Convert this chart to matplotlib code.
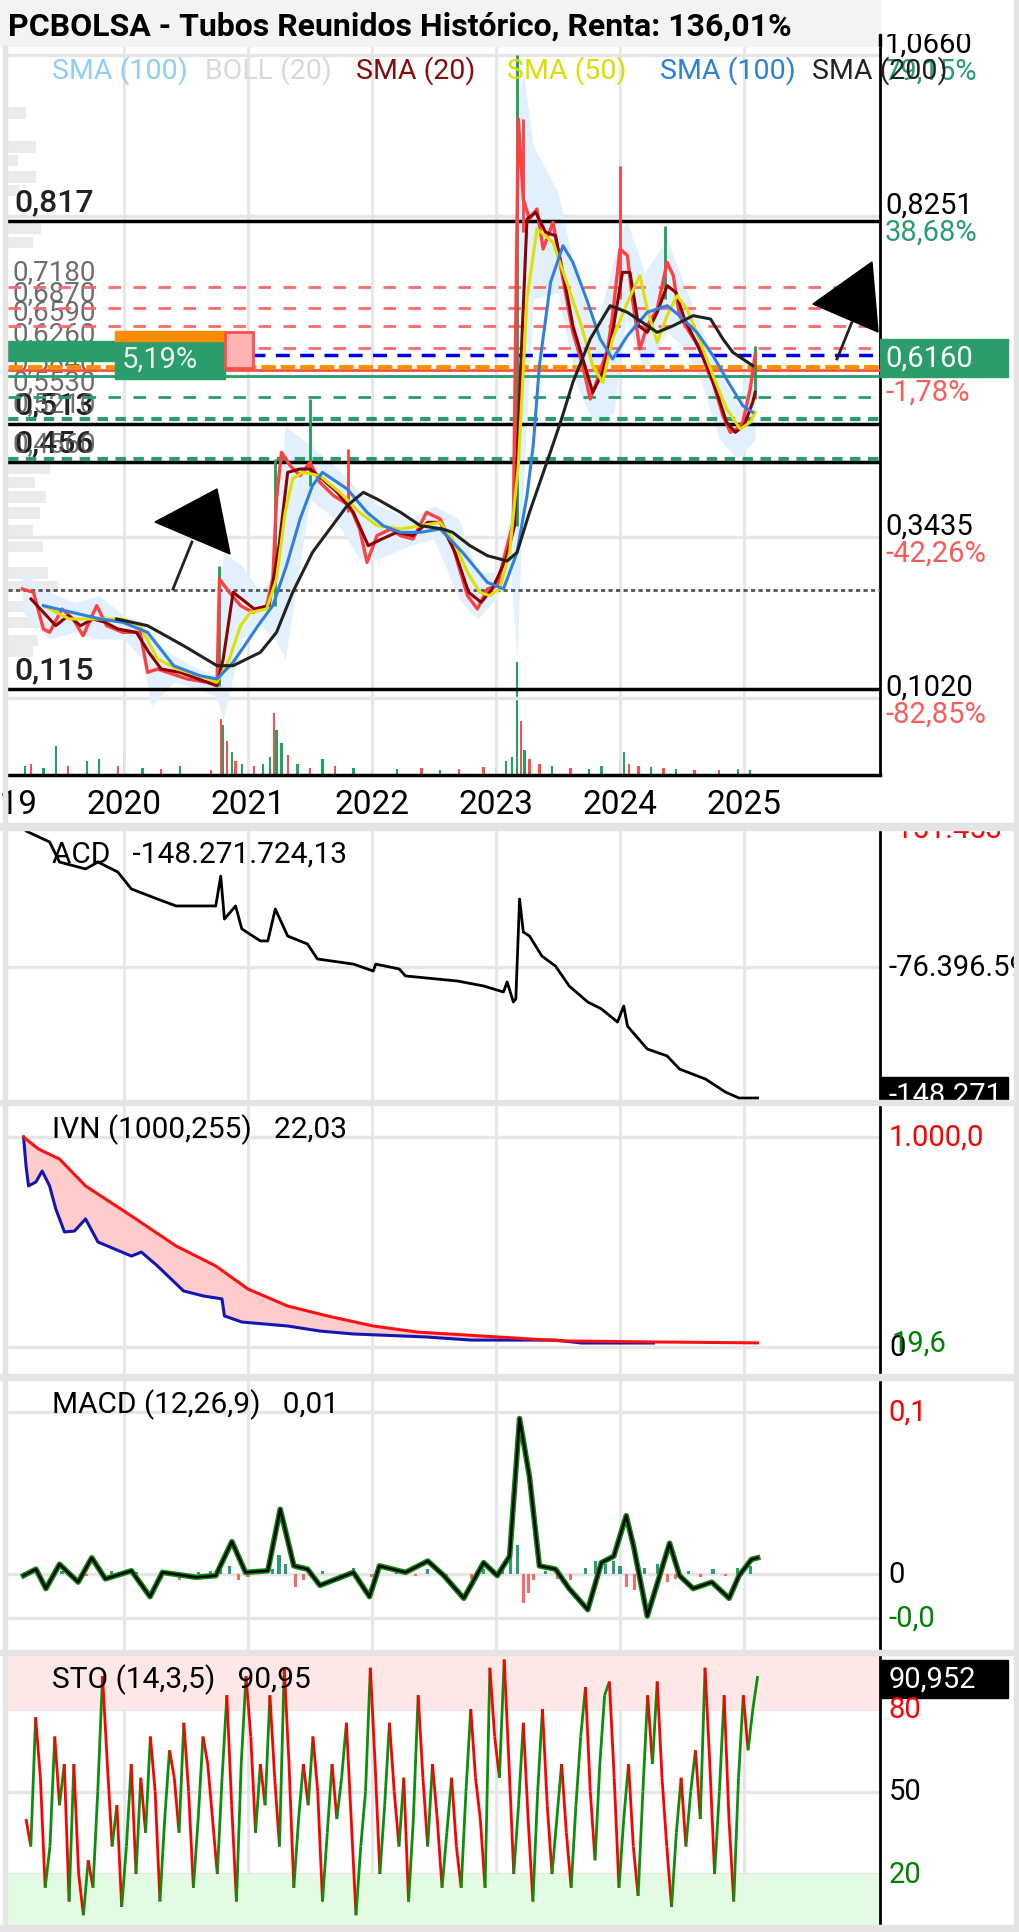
import numpy as np
import matplotlib
matplotlib.use('Agg')
import matplotlib.pyplot as plt
from matplotlib.patches import Rectangle, Polygon
from matplotlib.collections import LineCollection

plt.rcParams['font.family'] = ['Roboto', 'DejaVu Sans']

# ---------------- data ----------------
years = [2019, 2020, 2021, 2022, 2023, 2024, 2025]

price_t = [2019.18, 2019.27, 2019.35, 2019.40, 2019.50, 2019.59, 2019.67, 2019.78, 2019.86, 2019.99,
           2020.13, 2020.19, 2020.27, 2020.35, 2020.51, 2020.67, 2020.75, 2020.77, 2020.85, 2020.94,
           2021.04, 2021.15, 2021.20, 2021.23, 2021.27, 2021.34, 2021.42, 2021.50, 2021.58, 2021.69,
           2021.82, 2021.90, 2021.96, 2022.04, 2022.15, 2022.23, 2022.33, 2022.44, 2022.55, 2022.65,
           2022.77, 2022.85, 2022.93, 2023.01, 2023.09, 2023.14, 2023.18, 2023.22, 2023.27, 2023.33,
           2023.38, 2023.46, 2023.52, 2023.57, 2023.62, 2023.70, 2023.76, 2023.81, 2023.90, 2023.94,
           2024.00, 2024.06, 2024.10, 2024.16, 2024.22, 2024.30, 2024.38, 2024.43, 2024.48, 2024.56,
           2024.65, 2024.70, 2024.75, 2024.83, 2024.89, 2024.94, 2024.99, 2025.05, 2025.09]
price = [0.265, 0.26, 0.205, 0.20, 0.235, 0.22, 0.195, 0.24, 0.21, 0.20,
         0.20, 0.14, 0.145, 0.14, 0.13, 0.125, 0.12, 0.28, 0.26, 0.24,
         0.23, 0.24, 0.28, 0.40, 0.47, 0.45, 0.435, 0.455, 0.425, 0.405,
         0.39, 0.355, 0.305, 0.345, 0.355, 0.345, 0.34, 0.38, 0.37, 0.33,
         0.255, 0.235, 0.265, 0.27, 0.33, 0.365, 0.97, 0.85, 0.82, 0.835,
         0.775, 0.815, 0.75, 0.70, 0.65, 0.60, 0.55, 0.575, 0.625, 0.675,
         0.775, 0.765, 0.70, 0.625, 0.66, 0.685, 0.755, 0.735, 0.675, 0.65,
         0.625, 0.595, 0.575, 0.525, 0.50, 0.505, 0.515, 0.565, 0.616]

wick_t = [2020.77, 2021.22, 2021.50, 2021.81, 2023.17, 2023.22, 2024.00, 2024.36, 2025.09]
wick_lo = [0.12, 0.24, 0.42, 0.38, 0.36, 0.80, 0.70, 0.70, 0.55]
wick_hi = [0.30, 0.46, 0.55, 0.475, 1.066, 0.97, 0.90, 0.81, 0.63]
wick_up = [1, 1, 1, 0, 1, 0, 0, 1, 1]

sma20_t = [2019.25, 2019.35, 2019.45, 2019.55, 2019.65, 2019.75, 2019.85, 2019.95,
           2020.10, 2020.20, 2020.30, 2020.45, 2020.60, 2020.75, 2020.80, 2020.88, 2020.95,
           2021.05, 2021.17, 2021.25, 2021.32, 2021.42, 2021.50, 2021.60, 2021.72, 2021.85, 2021.97,
           2022.08, 2022.20, 2022.33, 2022.45, 2022.55, 2022.67, 2022.78, 2022.88, 2022.97,
           2023.08, 2023.15, 2023.20, 2023.25, 2023.32, 2023.40, 2023.48, 2023.55, 2023.62, 2023.70,
           2023.78, 2023.86, 2023.94,
           2024.02, 2024.08, 2024.15, 2024.22, 2024.30, 2024.38, 2024.45, 2024.52, 2024.60, 2024.70,
           2024.78, 2024.86, 2024.93, 2025.00, 2025.07, 2025.09]
sma20 = [0.25, 0.23, 0.21, 0.225, 0.21, 0.22, 0.215, 0.205,
         0.20, 0.17, 0.145, 0.14, 0.13, 0.12, 0.16, 0.26, 0.25,
         0.235, 0.24, 0.33, 0.44, 0.445, 0.445, 0.43, 0.41, 0.38, 0.33,
         0.34, 0.35, 0.345, 0.365, 0.365, 0.32, 0.26, 0.245, 0.265,
         0.31, 0.36, 0.60, 0.82, 0.83, 0.80, 0.795, 0.73, 0.66, 0.61, 0.56, 0.59, 0.65,
         0.74, 0.74, 0.66, 0.65, 0.68, 0.72, 0.71, 0.67, 0.64, 0.60, 0.56, 0.515, 0.50,
         0.51, 0.545, 0.56]

sma50_t = [2019.35, 2019.56, 2019.81, 2019.99,
           2020.13, 2020.27, 2020.43, 2020.61, 2020.75, 2020.85, 2020.94,
           2021.02, 2021.15, 2021.23, 2021.30, 2021.36, 2021.44, 2021.58, 2021.74, 2021.90,
           2022.04, 2022.23, 2022.39, 2022.55, 2022.65, 2022.77, 2022.87, 2022.95,
           2023.03, 2023.11, 2023.18, 2023.25, 2023.33, 2023.46, 2023.57, 2023.68, 2023.78, 2023.86, 2023.94,
           2024.06, 2024.16, 2024.22, 2024.30, 2024.38, 2024.46, 2024.54, 2024.65, 2024.75, 2024.86, 2024.97,
           2025.05, 2025.09]
sma50 = [0.24, 0.22, 0.22, 0.22,
         0.21, 0.16, 0.145, 0.135, 0.125, 0.16, 0.21,
         0.23, 0.235, 0.28, 0.38, 0.43, 0.44, 0.435, 0.41, 0.38,
         0.36, 0.355, 0.36, 0.365, 0.34, 0.29, 0.26, 0.255,
         0.265, 0.32, 0.45, 0.70, 0.805, 0.785, 0.725, 0.665, 0.60, 0.575, 0.64,
         0.695, 0.735, 0.685, 0.635, 0.675, 0.705, 0.685, 0.635, 0.585, 0.535, 0.505,
         0.515, 0.53]

sma100_t = [2019.35, 2019.81, 2019.99,
            2020.19, 2020.40, 2020.61, 2020.75, 2020.88,
            2021.10, 2021.20, 2021.31, 2021.42, 2021.52, 2021.60, 2021.80, 2021.96,
            2022.09, 2022.23, 2022.39, 2022.55, 2022.73, 2022.93,
            2023.06, 2023.17, 2023.25, 2023.30, 2023.35, 2023.44, 2023.54, 2023.62, 2023.73, 2023.84, 2023.94,
            2024.06, 2024.22, 2024.38, 2024.48, 2024.62, 2024.75, 2024.89, 2024.99,
            2025.07]
sma100 = [0.24, 0.22, 0.215,
          0.20, 0.15, 0.135, 0.13, 0.155,
          0.215, 0.24, 0.30, 0.37, 0.42, 0.44, 0.415, 0.38,
          0.36, 0.35, 0.35, 0.355, 0.32, 0.275,
          0.265, 0.32, 0.405, 0.48, 0.60, 0.725, 0.78, 0.755, 0.70, 0.64, 0.61,
          0.645, 0.68, 0.69, 0.675, 0.65, 0.615, 0.57, 0.54,
          0.53]

sma200_t = [2019.94,
            2020.19, 2020.48, 2020.75, 2020.88,
            2021.10, 2021.23, 2021.36, 2021.52, 2021.64, 2021.80, 2021.93,
            2022.04, 2022.23, 2022.39, 2022.57, 2022.65, 2022.79, 2022.93,
            2023.09, 2023.17, 2023.27, 2023.41, 2023.52, 2023.62, 2023.76, 2023.92,
            2024.06, 2024.22, 2024.30, 2024.43, 2024.59, 2024.73, 2024.83, 2024.91,
            2025.07]
sma200 = [0.22,
          0.21, 0.18, 0.15, 0.15,
          0.17, 0.20, 0.26, 0.32, 0.35, 0.39, 0.41,
          0.40, 0.38, 0.36, 0.355, 0.35, 0.33, 0.315,
          0.307, 0.32, 0.38, 0.455, 0.515, 0.575, 0.64, 0.69,
          0.68, 0.66, 0.65, 0.66, 0.675, 0.67, 0.64, 0.62,
          0.60]

boll_t = [2019.18, 2019.4, 2019.6, 2019.8, 2020.0, 2020.15, 2020.22, 2020.4, 2020.6, 2020.74,
          2020.8, 2020.95, 2021.1, 2021.22, 2021.3, 2021.5, 2021.7, 2021.9, 2022.05, 2022.3,
          2022.5, 2022.7, 2022.85, 2023.0, 2023.12, 2023.17, 2023.22, 2023.3, 2023.5, 2023.65,
          2023.8, 2023.95, 2024.05, 2024.2, 2024.38, 2024.5, 2024.65, 2024.8, 2024.95, 2025.09]
boll_up = [0.29, 0.26, 0.245, 0.255, 0.225, 0.215, 0.19, 0.165, 0.145, 0.135,
           0.32, 0.30, 0.26, 0.29, 0.51, 0.48, 0.45, 0.41, 0.39, 0.37,
           0.39, 0.37, 0.29, 0.29, 0.38, 0.99, 1.04, 0.93, 0.86, 0.73,
           0.65, 0.76, 0.82, 0.74, 0.79, 0.73, 0.66, 0.59, 0.54, 0.63]
boll_lo = [0.23, 0.19, 0.20, 0.19, 0.19, 0.16, 0.09, 0.125, 0.115, 0.105,
           0.07, 0.19, 0.21, 0.19, 0.16, 0.40, 0.37, 0.31, 0.31, 0.33,
           0.34, 0.25, 0.22, 0.25, 0.29, 0.16, 0.42, 0.70, 0.71, 0.57,
           0.51, 0.53, 0.67, 0.59, 0.65, 0.63, 0.58, 0.49, 0.46, 0.49]

vol_t = [2019.20, 2019.25, 2019.35, 2019.45, 2019.55, 2019.70, 2019.80, 2019.95,
         2020.00, 2020.15, 2020.30, 2020.45, 2020.70, 2020.78, 2020.80, 2020.83, 2020.87, 2020.90, 2020.95,
         2021.05, 2021.12, 2021.18, 2021.21, 2021.23, 2021.27, 2021.32, 2021.40, 2021.50, 2021.60, 2021.70, 2021.85,
         2022.00, 2022.20, 2022.40, 2022.55, 2022.70, 2022.90,
         2023.00, 2023.08, 2023.13, 2023.17, 2023.20, 2023.23, 2023.27, 2023.35, 2023.45, 2023.60, 2023.75, 2023.85,
         2024.00, 2024.03, 2024.07, 2024.15, 2024.25, 2024.35, 2024.45, 2024.60, 2024.80, 2024.95,
         2025.05]
vol = [8, 10, 6, 26, 8, 12, 14, 8,
       19, 6, 5, 8, 4, 50, 44, 30, 20, 12, 10,
       8, 10, 16, 55, 40, 28, 18, 10, 6, 14, 8, 6,
       4, 5, 6, 4, 5, 7,
       6, 12, 16, 100, 48, 22, 14, 10, 8, 6, 5, 8,
       14, 20, 10, 8, 7, 6, 5, 4, 4, 5,
       4]
vol_up = [1, 0, 1, 1, 0, 1, 1, 0, 1, 1, 0, 1, 0, 0, 1, 0, 1, 0, 1, 0,
          1, 1, 0, 1, 1, 0, 1, 0, 1, 0, 1, 0, 1, 0, 1, 0, 0, 1, 1, 1,
          1, 0, 1, 0, 0, 1, 0, 1, 1, 1, 1, 0, 0, 1, 0, 1, 0, 0, 1, 1]

vp_price = [0.979, 0.928, 0.908, 0.883, 0.863, 0.806, 0.785, 0.446, 0.425, 0.403,
            0.379, 0.353, 0.329, 0.289, 0.269, 0.239, 0.215, 0.188, 0.172]
vp_size = [18, 28, 10, 28, 12, 33, 25, 42, 27, 38, 32, 25, 35, 40, 50, 55, 40, 30, 25]

lvl_black = [0.817, 0.513, 0.456, 0.115]
lvl_black_txt = ['0,817', '0,513', '0,456', '0,115']
lvl_red = [0.718, 0.687, 0.659, 0.626]
lvl_green = [0.553, 0.520, 0.460]
lvl_gray_txt = [(0.718, '0,7180'), (0.687, '0,6870'), (0.659, '0,6590'), (0.626, '0,6260'),
                (0.584, '0,5840'), (0.553, '0,5530'), (0.520, '0,5210'), (0.460, '0,4560')]
lvl_dotted = 0.2635
lvl_last = 0.616
lvl_orange = 0.5975
lvl_redline = 0.593
lvl_greenline = 0.584

axis_lbl = [(1.066, '1,0660', '79,15%', '#2a9d6e'), (0.8251, '0,8251', '38,68%', '#2a9d6e'),
            (0.3435, '0,3435', '-42,26%', '#ff5a5a'), (0.102, '0,1020', '-82,85%', '#ff5a5a')]
price_grid = [0.102, 0.3435, 0.5843, 0.8251, 1.066]

# drawing-tool objects (year, price)
arrow1_tri = [(2020.25, 0.3655), (2020.75, 0.415), (2020.855, 0.3175)]
arrow1_line = [(2020.395, 0.265), (2020.548, 0.3355)]
arrow2_tri = [(2025.556, 0.6925), (2026.032, 0.7555), (2026.081, 0.6505)]
arrow2_line = [(2025.75, 0.610), (2025.871, 0.6655)]

acd_t = [2019.15, 2019.21, 2019.40, 2019.48, 2019.69, 2019.79, 2019.95,
         2020.06, 2020.27, 2020.42, 2020.74, 2020.78, 2020.81, 2020.90, 2020.95,
         2021.10, 2021.16, 2021.22, 2021.32, 2021.48, 2021.56, 2021.85,
         2022.01, 2022.03, 2022.22, 2022.27, 2022.69, 2022.90,
         2023.06, 2023.09, 2023.14, 2023.16, 2023.19, 2023.22, 2023.27, 2023.37, 2023.48, 2023.59,
         2023.74, 2023.85, 2023.98,
         2024.03, 2024.06, 2024.22, 2024.38, 2024.48, 2024.69, 2024.85, 2024.96,
         2025.11]
acd = [5.0, -1.8, -7.8, -18.8, -22.6, -18.8, -24.3,
       -33.6, -39.1, -42.9, -42.9, -26.5, -50.1, -42.9, -55.5,
       -62.1, -62.1, -44.6, -59.4, -63.8, -72.0, -74.8,
       -78.6, -74.8, -77.5, -81.3, -84.1, -86.8,
       -90.1, -84.6, -95.6, -93.9, -39.1, -57.2, -59.4, -70.4, -75.9, -86.8,
       -95.6, -99.4, -106.6,
       -97.8, -108.8, -121.4, -125.2, -132.4, -137.9, -145.0, -148.3,
       -148.27]

ivn_red_t = [2019.19, 2019.31, 2019.48, 2019.69, 2020.06, 2020.42, 2020.74, 2021.00,
             2021.32, 2021.64, 2022.01, 2022.37, 2023.01, 2023.53, 2024.27, 2025.11]
ivn_red = [1000, 943, 895, 767, 624, 481, 386, 276, 195, 148, 100, 71, 48, 29, 24, 19.6]
ivn_blue_t = [2019.19, 2019.21, 2019.23, 2019.29, 2019.34, 2019.40, 2019.45, 2019.52, 2019.60, 2019.69,
              2019.79, 2020.06, 2020.14, 2020.27, 2020.48, 2020.64, 2020.79, 2020.81, 2020.95, 2021.32,
              2021.58, 2021.85, 2022.43, 2022.80, 2023.48, 2023.69, 2024.27]
ivn_blue = [1000, 862, 767, 786, 838, 767, 657, 548, 552, 610,
            500, 433, 452, 386, 267, 243, 229, 148, 119, 100,
            76, 62, 48, 33, 33, 19, 19]

macd_t = [2019.19, 2019.29, 2019.37, 2019.48, 2019.63, 2019.74, 2019.85,
          2020.06, 2020.21, 2020.31, 2020.58, 2020.74, 2020.87, 2020.98,
          2021.16, 2021.26, 2021.37, 2021.48, 2021.58, 2021.85, 2021.98,
          2022.06, 2022.27, 2022.45, 2022.58, 2022.74, 2022.90,
          2023.01, 2023.11, 2023.19, 2023.27, 2023.35, 2023.48, 2023.59, 2023.74, 2023.85, 2023.95,
          2024.05, 2024.11, 2024.22, 2024.32, 2024.40, 2024.48, 2024.59, 2024.74, 2024.88, 2024.96,
          2025.06, 2025.11]
macd = [-0.001, 0.003, -0.009, 0.006, -0.005, 0.010, -0.003,
        0.002, -0.014, 0.001, -0.002, -0.001, 0.020, 0.001,
        0.002, 0.040, 0.005, 0.003, -0.007, 0.001, -0.014,
        0.005, 0.001, 0.008, -0.001, -0.015, 0.007,
        -0.001, 0.011, 0.096, 0.060, 0.005, 0.003, -0.009, -0.022, 0.007, 0.011,
        0.036, 0.017, -0.026, -0.001, 0.019, -0.001, -0.009, -0.005, -0.015, -0.001,
        0.009, 0.010]
hist_t = [2019.20, 2019.30, 2019.50, 2019.70, 2019.90,
          2020.10, 2020.30, 2020.45, 2020.60, 2020.70, 2020.78, 2020.85, 2020.92,
          2021.00, 2021.20, 2021.25, 2021.30, 2021.38, 2021.45, 2021.60, 2021.75, 2021.85,
          2022.00, 2022.20, 2022.35, 2022.45, 2022.60, 2022.80, 2022.90,
          2023.05, 2023.12, 2023.17, 2023.22, 2023.26, 2023.30, 2023.40, 2023.50, 2023.60, 2023.72,
          2023.80, 2023.88, 2023.95,
          2024.00, 2024.05, 2024.12, 2024.20, 2024.30, 2024.38, 2024.45, 2024.55, 2024.65, 2024.75,
          2024.85, 2024.95, 2025.05]
hist = [0.001, -0.001, 0.002, -0.001, 0.002,
        0.001, -0.003, -0.004, 0.001, 0.002, 0.006, 0.005, -0.004,
        -0.002, 0.003, 0.012, 0.006, -0.008, -0.004, 0.002, -0.003, 0.004,
        -0.002, 0.002, -0.001, 0.003, -0.002, -0.003, 0.003,
        0.006, 0.012, 0.018, -0.018, -0.012, -0.004, 0.002, -0.003, -0.004, 0.004,
        0.008, 0.006, 0.008,
        0.005, -0.008, -0.010, 0.004, 0.006, -0.005, -0.003, 0.002, -0.002, 0.003,
        -0.001, 0.004, 0.005]

# stochastic, sampled at even trading-day steps from 2019.21 to 2025.11
sto_start, sto_end = 2019.21, 2025.11
sto = [40, 30, 77, 55, 15, 30, 70, 45, 60, 10, 60, 20, 5, 25, 15, 50, 92, 60, 30, 45, 8, 30, 60, 20,
       55, 35, 70, 50, 10, 40, 65, 55, 35, 75, 50, 15, 40, 70, 60, 40, 20, 55, 85, 45, 10, 60, 92, 70, 35,
       60, 45, 85, 55, 30, 95, 60, 15, 40, 60, 45, 70, 50, 10, 35, 60, 40, 55, 75, 40, 5, 30, 50,
       95, 60, 20, 45, 75, 50, 30, 55, 10, 40, 85, 55, 30, 60, 40, 15, 35, 55, 30, 15, 50, 80, 55, 40, 15,
       95, 70, 55, 98, 60, 20, 45, 75, 40, 10, 50, 80, 45, 20, 40, 60, 35, 15, 45, 70, 88, 50, 25, 60, 85, 90,
       55, 15, 40, 60, 30, 12, 50, 85, 60, 90, 55, 30, 8, 35, 55, 30, 50, 65, 40, 95, 60, 20, 50, 85, 40,
       10, 55, 85, 65, 80, 92]
sto_t = np.linspace(sto_start, sto_end, len(sto))

# ---------------- layout helpers ----------------
W, H = 1020, 1933
fig = plt.figure(figsize=(W / 100, H / 100), dpi=100)
fig.patch.set_facecolor('white')

def px_axes(l, t, r, b):
    return fig.add_axes([l / W, 1 - b / H, (r - l) / W, (b - t) / H])

def px_ylim(t, b, v1, y1, v2, y2):
    k = (v1 - v2) / (y2 - y1)
    return v1 + (y1 - b) * k, v1 + (y1 - t) * k

X0, X1 = 2019 + 8 / 124, 2019 + 880 / 124
GRID = '#e6e6e6'
RSIZE = 21

def base(ax, ylim, hl):
    ax.set_xlim(X0, X1)
    ax.set_ylim(*ylim)
    for s in ['top', 'left', 'bottom']:
        ax.spines[s].set_visible(False)
    ax.spines['right'].set_color('black')
    ax.spines['right'].set_linewidth(2)
    ax.set_xticks([])
    ax.set_yticks([])
    for y in years:
        ax.axvline(y, color=GRID, lw=2, zorder=0)
    for h in hl:
        ax.axhline(h, color=GRID, lw=2.5, zorder=0)

def right_axes(t, b, ylim):
    r = px_axes(880, t, 1020, b)
    r.set_xlim(0, 1)
    r.set_ylim(*ylim)
    r.axis('off')
    return r

def rlabel(r, y, s, color='black', dy=0, x=0.06, size=RSIZE, **kw):
    r.annotate(s, xy=(x, y), xytext=(0, dy), textcoords='offset pixels',
               va='center', ha='left', fontsize=size, color=color,
               annotation_clip=False, clip_on=True, **kw)

def ptitle(ax, s):
    ax.annotate(s, xy=(0, 1), xycoords='axes fraction', xytext=(44, -23),
                textcoords='offset pixels', va='center', ha='left', fontsize=21.5, zorder=20)

# ---------------- price panel ----------------
pylim = px_ylim(47, 776, 0.817, 222, 0.115, 690)
vax = px_axes(8, 47, 880, 776)
vax.set_xlim(X0, X1)
vax.set_ylim(0, 100 * 729 / 113)
vax.axis('off')
vax.bar(vol_t, vol, width=0.018, color=['#1aa85a' if u else '#ff4d4d' for u in vol_up], lw=0)

ax = px_axes(8, 47, 880, 776)
ax.patch.set_alpha(0)
base(ax, pylim, price_grid)
ax.spines['bottom'].set_visible(True)
ax.spines['bottom'].set_linewidth(2.5)

ax.barh(vp_price, np.array(vp_size) / 124, left=X0, height=0.017, color='#ebebeb', zorder=1)
ax.fill_between(boll_t, boll_lo, boll_up, color='#e1f0fc', lw=0, zorder=2)

for l in lvl_black:
    ax.axhline(l, color='black', lw=2.5, zorder=3)
ax.axhline(lvl_dotted, color='#555555', lw=2, ls=(0, (1.5, 1.2)), zorder=3)
for l in lvl_red:
    ax.axhline(l, color='#ff6b6b', lw=2, ls=(0, (4.5, 4.5)), zorder=3)
ax.axhline(lvl_green[0], color='#2a9d6e', lw=2, ls=(0, (4.5, 4.5)), zorder=3)
for l in lvl_green[1:]:
    ax.axhline(l, color='#2a9d6e', lw=3, ls=(0, (2.5, 1.8)), zorder=3)
ax.axhline(lvl_last, color='#0000ee', lw=2.5, ls=(0, (4, 3)), zorder=3)
ax.axhline(lvl_redline, color='#ff4d4d', lw=2, zorder=3)
ax.axhline(lvl_orange, color='#ff8c00', lw=3.5, ls=(0, (3, 1)), zorder=3)
ax.axhline(lvl_greenline, color='#2a9d6e', lw=2, zorder=3)

ax.vlines(wick_t, wick_lo, wick_hi, colors=['#1f9d55' if u else '#ff4040' for u in wick_up],
          lw=2, zorder=4)
ax.plot(price_t, price, color='#ff4040', lw=2.4, zorder=5)
ax.plot(sma20_t, sma20, color='#8b0000', lw=2.2, zorder=6)
ax.plot(sma50_t, sma50, color='#dde000', lw=2.2, zorder=6)
ax.plot(sma100_t, sma100, color='#2f80e0', lw=2.2, zorder=6)
ax.plot(sma200_t, sma200, color='#222222', lw=2.2, zorder=6)

# position box (drawing tool)
ax.add_patch(Rectangle((X0, 0.607), 2019.927 - X0, 0.030, color='#2a9d6b', zorder=7))
ax.add_patch(Rectangle((2019.927, 0.580), 0.888, 0.057, color='#2a9d6b', zorder=7))
ax.add_patch(Rectangle((2019.927, 0.637), 0.888, 0.015, color='#ff8c00', zorder=7))
ax.add_patch(Rectangle((2020.815, 0.5965), 0.226, 0.0535, fc='#ffb3b3', ec='#ff4d4d', lw=2, zorder=7))
ax.text(2019.984, 0.610, '5,19%', color='#e6f4ec', fontsize=21, va='center', ha='left', zorder=8)

for tri, ln in [(arrow1_tri, arrow1_line), (arrow2_tri, arrow2_line)]:
    ax.add_patch(Polygon(tri, closed=True, color='black', zorder=9, clip_on=False))
    ax.plot([p[0] for p in ln], [p[1] for p in ln], color='#222222', lw=2, zorder=9, clip_on=False)

for l, s in zip(lvl_black, lvl_black_txt):
    ax.annotate(s, xy=(X0, l), xytext=(6, 19), textcoords='offset pixels', fontsize=23,
                color='#222222', fontweight='medium', va='center', ha='left', zorder=2)
for l, s in lvl_gray_txt:
    ax.annotate(s, xy=(X0, l), xytext=(4, 15), textcoords='offset pixels', fontsize=20,
                color='#555555', alpha=0.85, va='center', ha='left', zorder=2)

for yr in years:
    ax.annotate(str(yr), xy=(yr, 0), xycoords=('data', 'axes fraction'), xytext=(0, -29),
                textcoords='offset pixels', ha='center', va='center', fontsize=24,
                annotation_clip=False)

rp = right_axes(35, 776, px_ylim(35, 776, 0.817, 222, 0.115, 690))
for v, s, pct, c in axis_lbl:
    rlabel(rp, v, s, dy=11, x=0.036)
    rlabel(rp, v, pct, color=c, dy=-16, x=0.036)
rp.add_patch(Rectangle((0, 0.583), 0.914, 0.057, color='#2a9d6b', zorder=1))
rlabel(rp, 0.6115, '0,6160', color='white', x=0.036, zorder=3)
rlabel(rp, 0.5605, '-1,78%', color='#ff5a5a', x=0.036)

# ---------------- ACD ----------------
acd_lim = px_ylim(832, 1102, -76.3965, 968, -148.2717, 1099)
a2 = px_axes(8, 832, 880, 1102)
base(a2, acd_lim, [-76.3965])
a2.plot(acd_t, acd, color='black', lw=2)
ptitle(a2, 'ACD   -148.271.724,13')
r2 = right_axes(832, 1102, acd_lim)
r2.annotate('-151.453', xy=(0.06, 1), xycoords='axes fraction', xytext=(0, 2),
            textcoords='offset pixels', va='center', fontsize=RSIZE, color='red', clip_on=True)
rlabel(r2, -76.3965, '-76.396.598')
r2.add_patch(Rectangle((0, -152.0), 0.914, 15.3, color='black', zorder=1))
rlabel(r2, -148.2717, '-148.271.724', color='white', dy=3, zorder=2)

# ---------------- IVN ----------------
ivn_lim = px_ylim(1107, 1377, 1000, 1138, 0, 1348)
a3 = px_axes(8, 1107, 880, 1377)
base(a3, ivn_lim, [0, 1000])
a3.fill(np.concatenate([ivn_red_t, ivn_blue_t[::-1]]), np.concatenate([ivn_red, ivn_blue[::-1]]),
        color='#ffcccc', lw=0, zorder=1)
a3.plot(ivn_blue_t, ivn_blue, color='#1515b0', lw=2.2, zorder=2)
a3.plot(ivn_red_t, ivn_red, color='#ff1010', lw=2.2, zorder=3)
ptitle(a3, 'IVN (1000,255)   22,03')
r3 = right_axes(1107, 1377, ivn_lim)
rlabel(r3, 1000, '1.000,0', color='red')
rlabel(r3, 0, '0', x=0.07)
rlabel(r3, 19.6, '19,6', color='green', x=0.085)

# ---------------- MACD ----------------
macd_lim = px_ylim(1382, 1652, 0.1, 1413, 0, 1575)
a4 = px_axes(8, 1382, 880, 1652)
base(a4, macd_lim, [0.1, 0, -0.0272])
a4.bar(hist_t, hist, width=0.025, color=['#2a9d7a' if h > 0 else '#ff6666' for h in hist], lw=0, zorder=1)
a4.plot(macd_t, macd, color='#0a8a0a', lw=4, zorder=2)
a4.plot(macd_t, macd, color='black', lw=1.8, zorder=3)
ptitle(a4, 'MACD (12,26,9)   0,01')
r4 = right_axes(1382, 1652, macd_lim)
rlabel(r4, 0.1, '0,1', color='red')
rlabel(r4, 0, '0')
rlabel(r4, -0.0272, '-0,0', color='green')

# ---------------- STO ----------------
sto_lim = px_ylim(1657, 1926, 80, 1710, 20, 1875)
a5 = px_axes(8, 1657, 880, 1926)
base(a5, sto_lim, [80, 50, 20])
a5.axhspan(80, 110, color='#fde7e7', zorder=0)
a5.axhspan(-10, 20, color='#e2fbe2', zorder=0)
pts = np.column_stack([sto_t, sto])
segs = np.stack([pts[:-1], pts[1:]], axis=1)
cols = ['#0a8f0a' if d > 0 else '#ff0000' for d in np.diff(sto)]
a5.add_collection(LineCollection(segs, colors=cols, linewidths=2.0, zorder=3))
ptitle(a5, 'STO (14,3,5)   90,95')
r5 = right_axes(1657, 1926, sto_lim)
rlabel(r5, 80, '80', color='red')
rlabel(r5, 50, '50')
rlabel(r5, 20, '20', color='green')
r5.add_patch(Rectangle((0, 84.0), 0.914, 13.8, color='black', zorder=2))
rlabel(r5, 90.95, '90,952', color='white', zorder=3)

# ---------------- frame, title, legend ----------------
def frect(l, t, r, b, c, z=10):
    fig.patches.append(Rectangle((l / W, 1 - b / H), (r - l) / W, (b - t) / H,
                                 transform=fig.transFigure, color=c, zorder=z))

frect(0, 0, 880, 47, '#f3f3f3')
for t, b in [(824, 831), (1101, 1106), (1375, 1381), (1651, 1656), (1926, 1933)]:
    frect(0, t, 1020, b, '#e4e4e4')
frect(3, 47, 7, 1933, '#e4e4e4')
frect(1014, 0, 1018, 1933, '#e4e4e4')
frect(879, 35, 881, 47, 'black')

fig.text(8 / W, 1 - 27 / H, 'PCBOLSA - Tubos Reunidos Histórico, Renta: 136,01%',
         fontsize=23, fontweight='bold', va='center', ha='left', zorder=12)

leg = [('SMA (100)', '#90cdf9', 52), ('BOLL (20)', '#d9d9d9', 205), ('SMA (20)', '#8b0a0a', 356),
       ('SMA (50)', '#d9e000', 507), ('SMA (100)', '#2a7fd8', 660), ('SMA (200)', '#222222', 812)]
for s, c, x in leg:
    fig.text(x / W, 1 - 71 / H, s, color=c, fontsize=20.5, va='center', ha='left', zorder=12)

fig.savefig('out.png', dpi=100)
